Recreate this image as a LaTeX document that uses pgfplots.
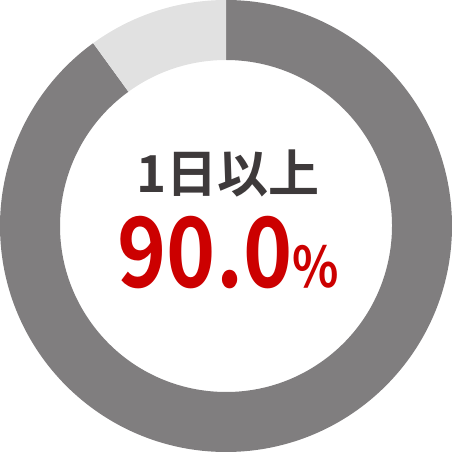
\documentclass[border=0pt]{standalone}
\usepackage{pgfplots}
\pgfplotsset{compat=1.18}
\usepackage{pgfplotstable}
\usepackage{fontspec}
\newfontfamily\cjk{Noto Sans CJK JP Bold}
\newfontfamily\cjknarrow{Noto Sans CJK JP Bold}[FakeStretch=0.86]
\definecolor{ringdark}{HTML}{807E7F}
\definecolor{ringlight}{HTML}{E1E1E1}
\definecolor{labelgray}{HTML}{3E3A3B}
\definecolor{valred}{HTML}{CC0000}

% share of the ring, clockwise from the top
\pgfplotstableread{
part value
oneday 90
other 10
}\donut

\begin{document}
\begin{tikzpicture}
\pgfplotstablegetelem{0}{value}\of\donut \let\va\pgfplotsretval
\pgfplotstablegetelem{1}{value}\of\donut \let\vb\pgfplotsretval
\pgfmathsetmacro\aA{90-3.6*\va}
\pgfmathsetmacro\aB{\aA-3.6*\vb}
\pgfmathsetmacro\iA{\aA+180}
\pgfmathsetmacro\iB{\aB+180}
\begin{axis}[
  width=452pt, height=452pt,
  scale only axis,
  hide axis,
  xmin=-1, xmax=1, ymin=-1, ymax=1,
  clip=false,
]
\fill[ringdark] (axis cs:0,0) ++(90:226pt) arc[start angle=90, end angle=\aA, radius=226pt]
  -- ++(\iA:60pt) arc[start angle=\aA, end angle=90, radius=166pt] -- cycle;
\fill[ringlight] (axis cs:0,0) ++(\aA:226pt) arc[start angle=\aA, end angle=\aB, radius=226pt]
  -- ++(\iB:60pt) arc[start angle=\aB, end angle=\aA, radius=166pt] -- cycle;
\node[anchor=base, inner sep=0pt, text=labelgray] at (axis cs:0.01,0.15)
  {\cjk\fontsize{51}{51}\selectfont 1日以上};
\node[anchor=base, inner sep=0pt, text=valred] at (axis cs:0.01,-0.27)
  {\cjknarrow\fontsize{97}{97}\selectfont 90.0{\fontsize{56}{56}\selectfont\%}};
\end{axis}
\end{tikzpicture}
\end{document}
